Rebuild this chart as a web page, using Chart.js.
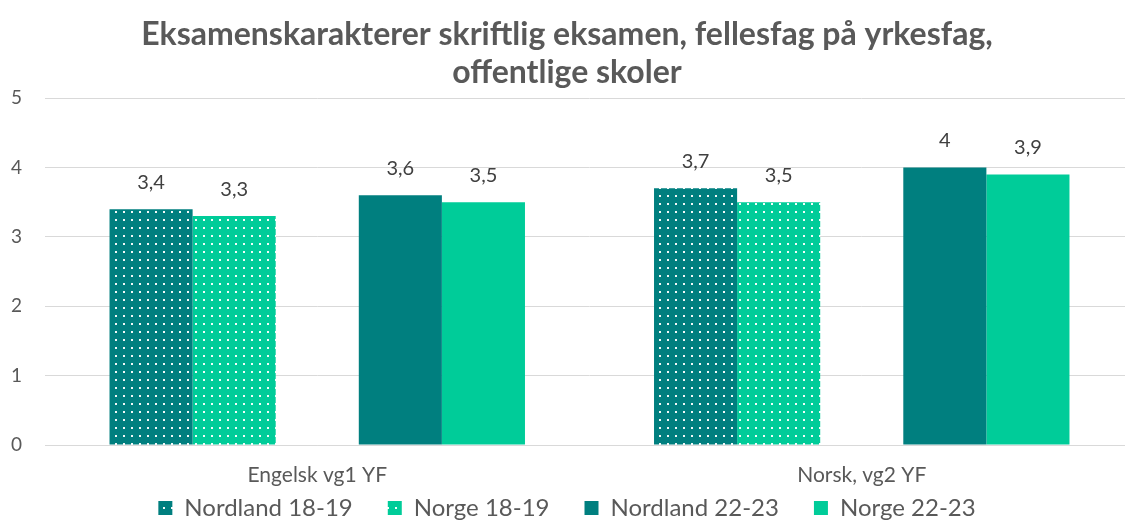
<!DOCTYPE html>
<html>
<head>
<meta charset="utf-8">
<script src="https://cdn.jsdelivr.net/npm/chart.js@4/dist/chart.umd.min.js"></script>
<style>
  html, body { margin: 0; padding: 0; background: #fff; overflow: hidden; }
  #wrap { width: 1140px; height: 530px; position: relative; }
</style>
</head>
<body>
<div id="wrap"><canvas id="chart"></canvas></div>
<script>
const categories = ['Engelsk vg1 YF', 'Norsk, vg2 YF'];
const nordland1819 = [3.4, 3.7];
const norge1819    = [3.3, 3.5];
const nordland2223 = [3.6, 4.0];
const norge2223    = [3.5, 3.9];
const yTicks = [0, 1, 2, 3, 4, 5];

const TEAL  = '#007f7f';
const GREEN = '#00cc99';
const TEXT  = '#595959';
const FONT  = 'Lato, "Open Sans", sans-serif';

// dotted fill like the excel pattern
function dots(color) {
  const c = document.createElement('canvas');
  c.width = 8; c.height = 8;
  const g = c.getContext('2d');
  g.fillStyle = color;
  g.fillRect(0, 0, 8, 8);
  g.fillStyle = 'rgba(255,255,255,0.95)';
  g.fillRect(3, 3, 2, 2);
  return g.createPattern(c, 'repeat');
}

const valueLabels = {
  id: 'valueLabels',
  afterDatasetsDraw(chart) {
    const ctx = chart.ctx;
    ctx.save();
    ctx.font = '20px ' + FONT;
    ctx.fillStyle = '#404040';
    ctx.textAlign = 'center';
    ctx.textBaseline = 'middle';
    chart.data.datasets.forEach((ds, i) => {
      if (ds.spacer) return;
      chart.getDatasetMeta(i).data.forEach((bar, j) => {
        const v = ds.data[j];
        if (v == null) return;
        ctx.fillText(String(v).replace('.', ','), bar.x, bar.y - 27);
      });
    });
    ctx.restore();
  }
};

// x axis is squeezed so the legend sits low; let its labels draw below it
const xLabelRoom = {
  id: 'xLabelRoom',
  afterLayout(chart) {
    chart.scales.x.bottom = chart.height;
  }
};

new Chart(document.getElementById('chart'), {
  type: 'bar',
  data: {
    labels: categories,
    datasets: [
      { label: 'Nordland 18-19', data: nordland1819, backgroundColor: dots(TEAL) },
      { label: 'Norge 18-19', data: norge1819, backgroundColor: dots(GREEN) },
      { label: '', data: [null, null], spacer: true, backgroundColor: 'rgba(0,0,0,0)' },
      { label: 'Nordland 22-23', data: nordland2223, backgroundColor: TEAL },
      { label: 'Norge 22-23', data: norge2223, backgroundColor: GREEN },
    ]
  },
  options: {
    responsive: true,
    maintainAspectRatio: false,
    animation: false,
    categoryPercentage: 0.763,
    barPercentage: 1,
    layout: { padding: { left: 0, right: 6, top: 16, bottom: 0 } },
    plugins: {
      title: {
        display: true,
        text: ['Eksamenskarakterer skriftlig eksamen, fellesfag på yrkesfag,', 'offentlige skoler'],
        color: TEXT,
        font: { family: FONT, size: 32, weight: 'bold', lineHeight: 1.19 },
        padding: { top: 0, bottom: 6 }
      },
      legend: {
        position: 'bottom',
        labels: {
          color: TEXT,
          font: { family: FONT, size: 24, lineHeight: 1 },
          boxWidth: 14,
          boxHeight: 14,
          padding: 35,
          filter: item => item.text !== ''
        }
      },
      tooltip: { enabled: false }
    },
    scales: {
      x: {
        grid: { display: false, drawTicks: false },
        border: { color: '#d9d9d9', width: 1 },
        ticks: { color: TEXT, font: { family: FONT, size: 21 }, padding: 18 },
        afterFit: axis => { axis.height = 16; }
      },
      y: {
        min: 0, max: 5,
        afterBuildTicks: axis => { axis.ticks = yTicks.map(v => ({ value: v })); },
        grid: { color: '#d9d9d9', drawTicks: false },
        border: { display: false },
        ticks: { color: TEXT, font: { family: FONT, size: 19 }, padding: 23 },
        afterFit: axis => { axis.width = 45; }
      }
    }
  },
  plugins: [valueLabels, xLabelRoom]
});
</script>
</body>
</html>
